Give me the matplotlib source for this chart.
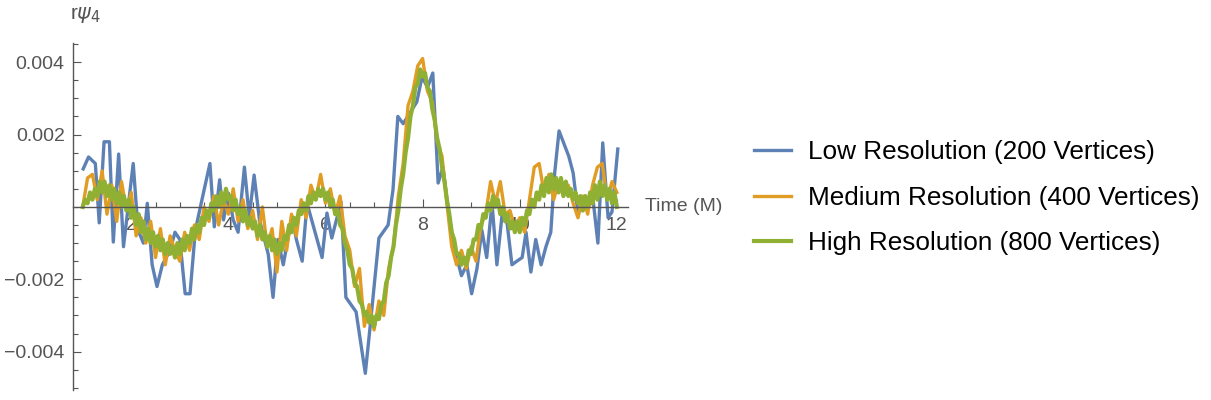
import numpy as np
import matplotlib.pyplot as plt
from matplotlib.ticker import MultipleLocator, FixedLocator

# low resolution run (200 vertices): time, value
low_t = [1.01, 1.12, 1.26, 1.34, 1.44, 1.55, 1.63, 1.74, 1.84, 2.04, 2.14, 2.25, 2.33,
         2.43, 2.53, 2.64, 2.80, 2.90, 3.00, 3.11, 3.21, 3.32, 3.50, 3.62, 3.71, 3.82,
         3.90, 4.00, 4.10, 4.20, 4.33, 4.43, 4.53, 4.64, 4.82, 4.92, 5.02, 5.13, 5.31,
         5.40, 5.52, 5.62, 5.93, 6.03, 6.13, 6.32, 6.42, 6.63, 6.82, 6.92, 7.10, 7.29,
         7.39, 7.49, 7.60, 7.74, 7.88, 7.99, 8.10, 8.21, 8.32, 8.42, 8.52, 8.63, 8.80,
         8.91, 9.01, 9.12, 9.22, 9.32, 9.43, 9.53, 9.64, 9.74, 9.84, 9.94, 10.05, 10.13,
         10.23, 10.33, 10.44, 10.54, 10.64, 10.72, 10.81, 11.01, 11.10, 11.20, 11.30,
         11.40, 11.51, 11.61, 11.71, 11.82, 11.90, 12.02]
low_v = [0.00105, 0.00138, 0.00120, -0.00044, 0.00180, 0.00180, -0.00097, 0.00146,
         -0.00110, 0.00120, -0.00064, -0.00100, 0.00010, -0.00160, -0.00220, -0.00160,
         -0.00120, -0.00070, -0.00090, -0.00240, -0.00240, -0.00064, 0.00047, 0.00120,
         -0.00055, 0.00075, -0.00036, 0.00038, -0.00036, -0.00070, 0.00110, -0.00028,
         0.00088, -0.00036, -0.00130, -0.00250, -0.00090, -0.00160, -0.00027, -0.00090,
         -0.00150, 0.00010, -0.00140, -0.00017, -0.00086, 0.00014, -0.00250, -0.00290,
         -0.00460, -0.00330, -0.00086, -0.00050, 0.00047, 0.00250, 0.00230, 0.00260,
         0.00290, 0.00360, 0.00330, 0.00370, 0.00066, 0.00110, 0.00000, -0.00100,
         -0.00190, -0.00160, -0.00240, -0.00170, -0.00064, -0.00140, 0.00010, -0.00160,
         -0.00017, -0.00045, -0.00160, -0.00150, -0.00140, -0.00070, -0.00180, -0.00090,
         -0.00160, -0.00110, -0.00070, 0.00094, 0.00210, 0.00140, 0.00094, -0.00017,
         -0.00003, -0.00003, 0.00020, -0.00100, 0.00177, -0.00030, -0.00014, 0.00160]

# medium resolution run (400 vertices), sampled every 0.1 M from 1 to 12
med_v = [0.0000, 0.0008, 0.0009, 0.0002, 0.0010, -0.0002, 0.0006, -0.0004, 0.0007, -0.0001,
         0.0004, -0.0008, -0.0003, -0.0010, -0.0004, -0.0014, -0.0006, -0.0016, -0.0008, -0.0012,
         -0.0015, -0.0007, -0.0012, -0.0005, -0.0009, 0.0000, -0.0004, 0.0003, -0.0005, 0.0002,
         -0.0002, 0.0005, -0.0004, 0.0002, -0.0006, -0.0001, -0.0009, 0.0000, -0.0011, -0.0006,
         -0.0018, -0.0004, -0.0012, -0.0002, -0.0008, 0.0002, -0.0003, 0.0006, 0.0002, 0.0009,
         0.0001, 0.0005, -0.0002, 0.0003, -0.0008, -0.0012, -0.0022, -0.0017, -0.0033, -0.0027,
         -0.0034, -0.0026, -0.0030, -0.0017, -0.0011, 0.0003, 0.0012, 0.0028, 0.0032, 0.0039,
         0.0041, 0.0032, 0.0029, 0.0018, 0.0014, 0.0001, -0.0011, -0.0016, -0.0012, -0.0017,
         -0.0011, -0.0015, -0.0005, -0.0002, 0.0007, 0.0001, 0.0007, -0.0002, -0.0001, -0.0006,
         -0.0003, -0.0007, 0.0002, 0.0011, 0.0012, 0.0004, 0.0009, 0.0002, 0.0007, 0.0003,
         0.0006, 0.0001, -0.0003, 0.0003, -0.0002, 0.0006, 0.0011, 0.0012, 0.0002, 0.0007,
         0.0004]

# high resolution run (800 vertices), sampled every 0.05 M from 1 to 12
high_v = [0.0000, 0.0002, 0.0001, 0.0004, 0.0002, 0.0005, 0.0003, 0.0007, 0.0004, 0.0007,
          0.0003, 0.0006, 0.0002, 0.0005, 0.0001, 0.0004, 0.0000, 0.0003, -0.0001, 0.0002,
          -0.0003, 0.0000, -0.0005, -0.0002, -0.0007, -0.0004, -0.0009, -0.0006, -0.0010, -0.0007,
          -0.0011, -0.0008, -0.0012, -0.0009, -0.0013, -0.0010, -0.0013, -0.0011, -0.0014, -0.0010,
          -0.0013, -0.0009, -0.0012, -0.0008, -0.0010, -0.0006, -0.0009, -0.0005, -0.0007, -0.0003,
          -0.0005, -0.0001, -0.0003, 0.0001, -0.0001, 0.0003, 0.0000, 0.0004, 0.0001, 0.0005,
          0.0002, 0.0003, -0.0001, 0.0002, -0.0002, 0.0000, -0.0004, -0.0001, -0.0005, -0.0003,
          -0.0006, -0.0004, -0.0008, -0.0005, -0.0009, -0.0007, -0.0011, -0.0008, -0.0012, -0.0009,
          -0.0013, -0.0010, -0.0012, -0.0008, -0.0009, -0.0005, -0.0007, -0.0003, -0.0005, -0.0001,
          -0.0002, 0.0001, -0.0001, 0.0003, 0.0001, 0.0004, 0.0002, 0.0005, 0.0003, 0.0005,
          0.0002, 0.0004, 0.0000, 0.0002, -0.0002, -0.0001, -0.0005, -0.0006, -0.0010, -0.0012,
          -0.0016, -0.0017, -0.0021, -0.0022, -0.0026, -0.0027, -0.0030, -0.0029, -0.0032, -0.0030,
          -0.0033, -0.0030, -0.0031, -0.0027, -0.0026, -0.0021, -0.0019, -0.0014, -0.0011, -0.0005,
          -0.0001, 0.0005, 0.0009, 0.0015, 0.0019, 0.0025, 0.0028, 0.0033, 0.0034, 0.0038,
          0.0036, 0.0037, 0.0033, 0.0032, 0.0027, 0.0024, 0.0019, 0.0016, 0.0011, 0.0007,
          0.0002, -0.0002, -0.0007, -0.0009, -0.0013, -0.0013, -0.0016, -0.0014, -0.0016, -0.0012,
          -0.0013, -0.0009, -0.0009, -0.0005, -0.0006, -0.0002, -0.0003, 0.0001, -0.0001, 0.0003,
          0.0000, 0.0002, -0.0002, 0.0000, -0.0004, -0.0002, -0.0006, -0.0004, -0.0007, -0.0004,
          -0.0007, -0.0003, -0.0005, -0.0001, -0.0002, 0.0002, 0.0000, 0.0004, 0.0002, 0.0006,
          0.0003, 0.0008, 0.0004, 0.0009, 0.0005, 0.0008, 0.0004, 0.0008, 0.0003, 0.0007,
          0.0003, 0.0005, 0.0002, 0.0004, 0.0001, 0.0003, -0.0001, 0.0003, 0.0000, 0.0004,
          0.0001, 0.0006, 0.0002, 0.0007, 0.0003, 0.0006, 0.0002, 0.0005, 0.0001, 0.0004,
          0.0000]

labels = ["Low Resolution (200 Vertices)", "Medium Resolution (400 Vertices)",
          "High Resolution (800 Vertices)"]
colors = ["#5E81B5", "#E19C24", "#8FB032"]

med_t = np.linspace(1, 12, len(med_v))
high_t = np.linspace(1, 12, len(high_v))

plt.rcParams['font.family'] = ['Liberation Sans', 'DejaVu Sans']
gray = "#555555"

fig = plt.figure(figsize=(12.11, 4.0), dpi=100)
ax = fig.add_axes([73 / 1211, 1 - 390 / 400, (628 - 73) / 1211, (390 - 43) / 400])

ax.plot(low_t, low_v, color=colors[0], lw=2.4, label=labels[0])
ax.plot(med_t, med_v, color=colors[1], lw=2.4, label=labels[1])
ax.plot(high_t, high_v, color=colors[2], lw=3.0, label=labels[2])

ax.set_xlim(0.8, 12.23)
ax.set_ylim(-0.00506, 0.00453)

ax.spines['top'].set_visible(False)
ax.spines['right'].set_visible(False)
ax.spines['bottom'].set_position(('data', 0))
for s in ['left', 'bottom']:
    ax.spines[s].set_color(gray)
    ax.spines[s].set_linewidth(1.0)

ax.xaxis.set_major_locator(FixedLocator([2, 4, 6, 8, 10, 12]))
ax.xaxis.set_minor_locator(MultipleLocator(0.5))
ax.yaxis.set_major_locator(FixedLocator([-0.004, -0.002, 0.002, 0.004]))
ax.yaxis.set_minor_locator(MultipleLocator(0.0005))
ax.set_yticklabels(["\u22120.004", "\u22120.002", "0.002", "0.004"])
ax.tick_params(which='both', direction='in', colors=gray, labelcolor=gray, labelsize=14)
ax.tick_params(which='major', length=6, width=0.8)
ax.tick_params(which='minor', length=3.5, width=0.8)
ax.tick_params(axis='x', pad=7)
ax.tick_params(axis='y', pad=6)

fig.text(70 / 1211, 1 - 15 / 400, r"r$\psi_4$", color=gray, fontsize=15, va='center', ha='left')
fig.text(645 / 1211, 1 - 207 / 400, "Time (M)", color=gray, fontsize=14, va='center', ha='left')

fig.legend(loc='upper left', bbox_to_anchor=(730 / 1211, 1 - 117 / 400), frameon=False,
           fontsize=18.8, handlelength=1.42, handletextpad=0.65, labelspacing=0.82)

fig.savefig("out.png", dpi=100)
